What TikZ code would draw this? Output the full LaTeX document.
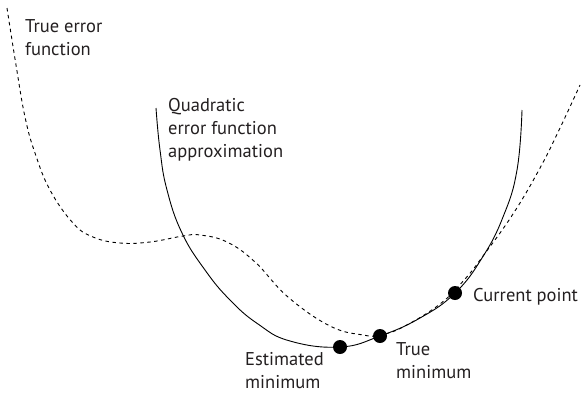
\documentclass[tikz,border=0pt]{standalone}
\usepackage{fontspec}
\setmainfont{PT Sans}
\definecolor{txt}{HTML}{231F20}
\begin{document}
\begin{tikzpicture}[x=1pt,y=-1pt,
  lbl/.style={anchor=base west,inner sep=0pt,align=left,text=txt,font=\fontsize{18.5}{23}\selectfont},
  dot/.style={circle,fill=black,inner sep=0pt,minimum size=14pt},
  curve/.style={line width=0.9pt,black},
  dcurve/.style={line width=0.9pt,black,dash pattern=on 3.5pt off 3.5pt}]
\useasboundingbox (0,0) rectangle (585,394);
% true error function (dashed)
\draw[dcurve] plot[smooth,tension=0.7] coordinates {(7,8) (16,65) (25,117) (35,153) (50,190) (73,223) (93,237) (120,243) (150,242) (183,236) (200,235) (227,242) (255,262) (288,297) (330,326) (363,335) (380,335) (403,327) (440,304) (465,279) (483,256) (513,214) (540,168) (560,128) (580,85)};
% quadratic approximation (solid)
\draw[curve] plot[smooth,tension=0.75] coordinates {(156,108) (160,150) (167,190) (182,233) (205,270) (230,300) (258,324) (290,341) (340,347) (380,336) (420,318) (455,293) (482,258) (503,217) (517,170) (522,110)};
\node[dot] (est) at (340,347) {};
\node[dot] (tmin) at (380,336) {};
\node[dot] (cur) at (455,293) {};
\node[lbl] (ltrue) at (25,55) {True error\\function};
\node[lbl] (lquad) at (168,157) {Quadratic\\error function\\approximation};
\node[lbl] (lcur) at (473,301) {Current point};
\node[lbl] (ltmin) at (396,378) {True\\minimum};
\node[lbl] (lest) at (245,388) {Estimated\\minimum};
\end{tikzpicture}
\end{document}
